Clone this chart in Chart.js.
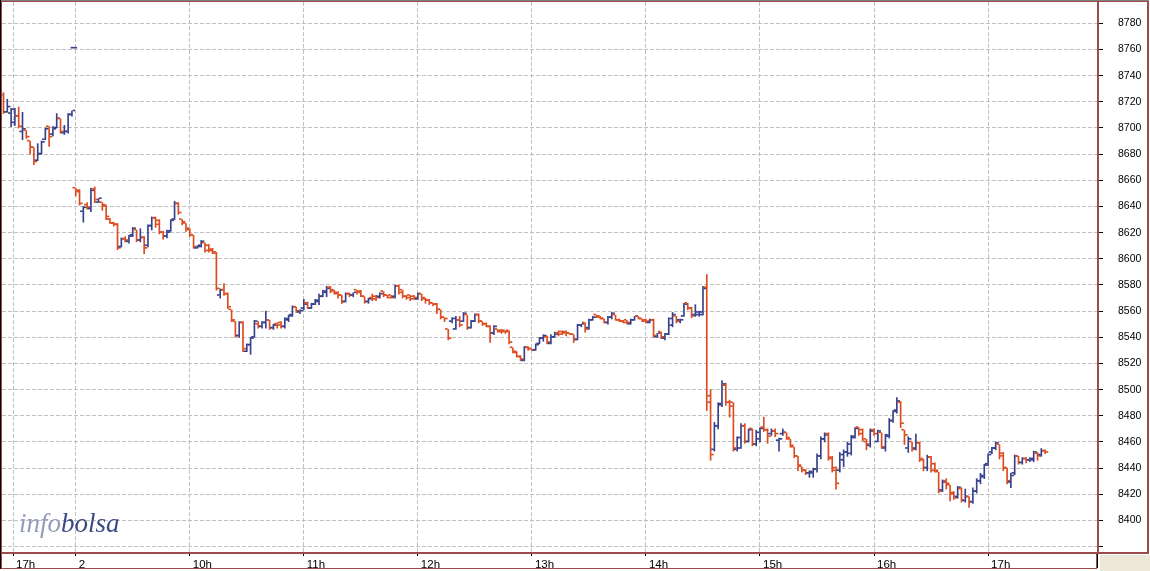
<!DOCTYPE html>
<html>
<head>
<meta charset="utf-8">
<script src="https://cdn.jsdelivr.net/npm/chart.js@4.4.1/dist/chart.umd.min.js"></script>
<style>
  html, body { margin: 0; padding: 0; background: #fff; }
  #wrap { width: 1150px; height: 571px; }
</style>
</head>
<body>
<div id="wrap"><canvas id="chart" width="1150" height="571"></canvas></div>
<script>
// time axis in minutes: 0 = 17:00 of the previous day, 33 = 9:00 of day 2
const BAR_MINUTES = 2;
const prevSessionStart = -5;
const daySessionStart = 33;
const strayMinute = 32;
const strayPrint = 8761;

// previous session (16:55 - 17:31), 2-minute bars
const prevOpen  = [8725,8712,8711,8704,8709,8697,8698,8690,8685,8675,8680,8691,8701,8695,8700,8707,8696,8697,8710];
const prevHigh  = [8727,8722,8715,8715,8716,8712,8698,8690,8685,8688,8690,8700,8701,8701,8711,8707,8702,8711,8713];
const prevLow   = [8711,8712,8701,8702,8700,8691,8692,8680,8672,8675,8680,8691,8686,8694,8700,8696,8695,8696,8709];
const prevClose = [8712,8716,8714,8709,8701,8699,8693,8685,8674,8680,8689,8699,8693,8699,8707,8697,8697,8710,8713];

// day 2 session (9:00 - 17:30), 2-minute bars
const dayOpen = [
  8654,8652,8636,8641,8638,8653,8643,8643,8640,8630, 8627,8626,8609,8615,8613,8618,8622,8614,8616,8610,
  8625,8631,8629,8620,8617,8621,8630,8642,8630,8627, 8623,8618,8608,8610,8612,8610,8607,8604,8572,8576,
  8573,8561,8552,8541,8551,8529,8534,8540,8550,8548, 8551,8553,8547,8550,8551,8548,8553,8557,8563,8559,
  8562,8566,8562,8565,8567,8571,8574,8578,8576,8574, 8572,8567,8573,8572,8576,8575,8571,8567,8570,8571,
  8571,8575,8572,8572,8571,8579,8576,8571,8572,8571, 8569,8573,8570,8568,8566,8565,8561,8555,8546,8552,
  8546,8553,8552,8557,8547,8552,8557,8552,8550,8548, 8543,8546,8545,8545,8545,8532,8529,8525,8522,8532,
  8531,8530,8535,8539,8540,8535,8540,8543,8544,8544, 8543,8542,8538,8549,8551,8547,8553,8557,8556,8554,
  8551,8555,8557,8553,8552,8553,8550,8553,8556,8554, 8553,8551,8553,8540,8544,8539,8542,8549,8556,8553,
  8556,8566,8562,8557,8557,8557,8578,8495,8454,8472, 8489,8503,8490,8490,8454,8455,8472,8460,8470,8458,
  8462,8471,8469,8466,8468,8461,8466,8467,8462,8456, 8449,8441,8438,8436,8436,8439,8449,8462,8466,8448,
  8440,8438,8446,8452,8451,8464,8471,8469,8460,8457, 8469,8460,8467,8455,8464,8476,8484,8490,8469,8455,
  8460,8455,8459,8446,8440,8448,8443,8437,8423,8430, 8427,8421,8418,8424,8415,8418,8414,8422,8430,8433,
  8443,8452,8455,8458,8451,8440,8429,8436,8449,8444, 8447,8446,8446,8451,8450,8453
];
const dayHigh = [
  8654,8653,8640,8643,8654,8655,8646,8643,8641,8631, 8628,8627,8616,8617,8618,8624,8622,8623,8617,8626,
  8632,8632,8630,8621,8622,8630,8644,8643,8630,8627, 8623,8618,8610,8614,8612,8611,8608,8605,8577,8581,
  8574,8561,8552,8552,8552,8535,8540,8553,8552,8552, 8560,8553,8550,8551,8552,8555,8557,8564,8563,8561,
  8569,8567,8566,8569,8573,8576,8579,8579,8576,8575, 8572,8574,8574,8574,8576,8576,8571,8570,8573,8572,
  8574,8575,8572,8572,8580,8580,8576,8572,8572,8572, 8574,8573,8570,8569,8566,8566,8561,8555,8546,8555,
  8556,8556,8559,8557,8553,8558,8558,8552,8551,8549, 8549,8546,8546,8545,8545,8532,8529,8526,8533,8533,
  8531,8535,8540,8542,8541,8542,8544,8545,8545,8545, 8543,8542,8550,8550,8551,8554,8556,8557,8556,8554,
  8556,8559,8557,8554,8553,8553,8554,8556,8556,8554, 8554,8554,8554,8543,8544,8543,8555,8559,8556,8554,
  8566,8566,8563,8565,8560,8579,8588,8500,8475,8490, 8507,8505,8492,8490,8464,8474,8474,8470,8470,8469,
  8471,8479,8470,8470,8470,8463,8470,8467,8462,8456, 8449,8441,8439,8438,8440,8451,8464,8467,8467,8449,
  8441,8452,8454,8460,8465,8471,8471,8470,8462,8470, 8470,8469,8467,8466,8478,8484,8494,8491,8469,8464,
  8460,8466,8460,8447,8450,8449,8444,8437,8431,8432, 8427,8422,8426,8425,8424,8418,8425,8432,8436,8443,
  8451,8456,8460,8458,8452,8440,8436,8450,8449,8448, 8448,8448,8453,8452,8455,8454
];
const dayLow = [
  8648,8641,8628,8638,8636,8643,8643,8637,8630,8627, 8625,8607,8609,8613,8612,8617,8613,8613,8604,8609,
  8622,8624,8619,8615,8616,8621,8630,8634,8626,8621, 8617,8608,8608,8609,8605,8605,8604,8576,8570,8572,
  8562,8552,8540,8540,8529,8529,8527,8540,8547,8547, 8547,8546,8546,8547,8547,8547,8552,8556,8559,8558,
  8561,8562,8562,8565,8565,8571,8571,8574,8573,8570, 8566,8567,8571,8571,8573,8571,8566,8566,8568,8568,
  8570,8571,8570,8570,8570,8573,8570,8569,8568,8569, 8569,8568,8566,8565,8564,8558,8554,8552,8538,8551,
  8546,8548,8552,8546,8547,8552,8551,8549,8548,8536, 8542,8544,8543,8543,8535,8528,8525,8522,8522,8530,
  8530,8530,8535,8537,8535,8535,8540,8541,8542,8541, 8542,8536,8538,8548,8544,8546,8553,8555,8554,8551,
  8550,8554,8553,8552,8551,8550,8550,8553,8554,8552, 8551,8551,8540,8540,8539,8538,8542,8548,8551,8551,
  8556,8561,8555,8556,8556,8557,8484,8446,8453,8470, 8487,8488,8479,8453,8453,8455,8459,8460,8457,8457,
  8460,8468,8459,8465,8464,8453,8465,8462,8456,8448, 8438,8437,8435,8433,8433,8437,8447,8460,8446,8437,
  8424,8437,8441,8449,8450,8463,8465,8461,8454,8456, 8465,8460,8455,8453,8463,8475,8482,8471,8458,8452,
  8453,8454,8445,8438,8438,8437,8437,8421,8422,8424, 8415,8416,8417,8414,8414,8410,8413,8421,8428,8432,
  8442,8451,8454,8447,8438,8428,8425,8435,8443,8443, 8444,8445,8445,8446,8449,8451
];
const dayClose = [
  8651,8642,8639,8639,8652,8645,8646,8641,8632,8627, 8626,8608,8615,8614,8617,8623,8614,8616,8608,8625,
  8631,8626,8620,8617,8620,8629,8642,8635,8628,8622, 8618,8609,8609,8613,8606,8606,8605,8577,8576,8573,
  8563,8553,8541,8551,8531,8534,8539,8552,8548,8551, 8553,8547,8549,8549,8548,8554,8556,8563,8560,8560,
  8565,8562,8565,8568,8571,8575,8577,8575,8573,8572, 8567,8573,8572,8574,8574,8571,8567,8569,8569,8570,
  8573,8572,8570,8570,8579,8574,8571,8570,8569,8570, 8573,8569,8568,8566,8565,8561,8555,8554,8539,8554,
  8553,8549,8558,8547,8552,8557,8552,8550,8548,8543, 8548,8544,8544,8544,8536,8528,8525,8523,8532,8531,
  8530,8534,8539,8541,8536,8540,8542,8542,8543,8543, 8542,8538,8549,8550,8546,8553,8555,8555,8554,8551,
  8555,8558,8553,8552,8551,8551,8553,8556,8554,8552, 8552,8553,8541,8543,8540,8542,8554,8557,8552,8553,
  8565,8562,8556,8559,8559,8577,8490,8450,8472,8488, 8504,8490,8487,8455,8463,8472,8460,8469,8458,8467,
  8470,8469,8464,8468,8466,8462,8467,8463,8457,8449, 8442,8438,8436,8437,8439,8449,8462,8465,8447,8438,
  8428,8450,8452,8458,8463,8470,8466,8462,8458,8468, 8466,8468,8456,8465,8476,8483,8491,8474,8465,8462,
  8454,8459,8447,8440,8448,8438,8438,8422,8429,8428, 8420,8417,8425,8415,8418,8414,8422,8430,8434,8442,
  8450,8455,8459,8449,8440,8430,8434,8449,8444,8447, 8446,8447,8452,8449,8453,8452
];

// axis labels
const hourTicks  = [0, 33, 93, 153, 213, 273, 333, 393, 453, 513];
const hourLabels = ['17h', '2', '10h', '11h', '12h', '13h', '14h', '15h', '16h', '17h'];
const dayBreak = 33;
const priceStep = 20;
const minorStep = 10;
const firstPriceLabel = 8400;

const UP = '#36418c';
const DOWN = '#dc4a1d';
const GRID = '#c0c0c0';
const FRAME = '#9c4a4a';
const PANEL_BG = '#ece9d8';
const FAMILY = '"Liberation Sans", Arial, sans-serif';

const bars = [];
prevOpen.forEach((o, i) => bars.push({ x: prevSessionStart + i * BAR_MINUTES, o, h: prevHigh[i], l: prevLow[i], c: prevClose[i] }));
bars.push({ x: strayMinute, o: strayPrint, h: strayPrint, l: strayPrint, c: strayPrint });
dayOpen.forEach((o, i) => bars.push({ x: daySessionStart + i * BAR_MINUTES, o, h: dayHigh[i], l: dayLow[i], c: dayClose[i] }));

const barColor = ctx => {
    const b = bars[ctx.dataIndex];
    return b && b.c >= b.o ? UP : DOWN;
};

// open tick | high-low stem | close tick, laid side by side by the bar grouping
const ohlcSets = [
    { label: 'open',  data: bars.map(b => ({ x: b.x, y: [b.o, b.o] })), barThickness: 1.9 },
    { label: 'range', data: bars.map(b => ({ x: b.x, y: [b.l, b.h] })), barThickness: 1 },
    { label: 'close', data: bars.map(b => ({ x: b.x, y: [b.c, b.c] })), barThickness: 1.9 },
].map(ds => Object.assign(ds, { backgroundColor: barColor, minBarLength: 1, borderWidth: 0 }));

// price ticks on round multiples of the step, whatever the axis bounds are
const roundTicks = step => s => {
    const out = [];
    for (let v = Math.ceil(s.min / step) * step; v <= s.max; v += step) out.push({ value: v });
    s.ticks = out;
};

// fixed axis sizes; drop the label overhang padding so the plot keeps its full height
const fixWidth = w => s => { s.width = w; s.paddingTop = 0; s.paddingBottom = 0; };
const fixHeight = h => s => { s.height = h; s.paddingLeft = 0; s.paddingRight = 0; };

const watermark = {
    id: 'watermark',
    beforeDatasetsDraw(chart) {
        const c = chart.ctx, a = chart.chartArea;
        c.save();
        c.font = 'italic 27px "Liberation Serif", serif';
        c.textBaseline = 'alphabetic';
        const x = a.left + 17, y = a.bottom - 20;
        c.fillStyle = '#959bbd';
        c.fillText('info', x, y);
        const w = c.measureText('info').width;
        c.fillStyle = '#3a4a87';
        c.fillText('bolsa', x + w, y);
        c.restore();
    }
};

const frame = {
    id: 'frame',
    afterDraw(chart) {
        const c = chart.ctx, a = chart.chartArea, W = chart.width, H = chart.height;
        c.save();
        c.fillStyle = PANEL_BG;
        c.fillRect(a.right + 3, a.bottom + 3, W - a.right - 3, H - a.bottom - 3);
        c.fillStyle = '#808080';
        c.fillRect(0, 0, W - 1, 1);
        c.fillStyle = '#000';
        c.fillRect(0, 0, 1, a.bottom + 17);
        c.fillStyle = FRAME;
        c.fillRect(1, 1, W - 2, 1);                 // top
        c.fillRect(1, 1, 1, a.bottom + 16);         // left
        c.fillRect(a.right, 1, 2, a.bottom);        // plot right
        c.fillRect(W - 3, 1, 2, a.bottom + 1);      // price panel right
        c.fillRect(1, a.bottom, W - 2, 2);          // plot and panel bottom
        c.fillRect(1, a.bottom + 16, a.right - 1, 1);   // time strip bottom
        c.fillRect(a.right - 1, a.bottom, 1, 17);   // time strip right
        c.restore();
    }
};

const yRange = { min: 8375.9, max: 8796.3 };
const xRange = { min: -5.79, max: 570.3 };

new Chart(document.getElementById('chart'), {
    type: 'bar',
    data: { datasets: ohlcSets },
    options: {
        responsive: false,
        animation: false,
        devicePixelRatio: 1,
        layout: { padding: { left: 2, top: 2, right: 0, bottom: 0 } },
        plugins: {
            legend: { display: false },
            tooltip: { enabled: false }
        },
        scales: {
            x: {
                type: 'linear',
                position: 'bottom',
                weight: 1,
                min: xRange.min,
                max: xRange.max,
                offset: false,
                afterBuildTicks: s => { s.ticks = hourTicks.map(v => ({ value: v })); },
                afterFit: fixHeight(19),
                grid: {
                    offset: false,
                    color: GRID,
                    drawTicks: true,
                    tickLength: 4,
                    tickColor: '#000'
                },
                border: { display: false, dash: [4, 2] },
                ticks: {
                    autoSkip: false,
                    maxRotation: 0,
                    align: 'start',
                    labelOffset: 3,
                    padding: 2,
                    color: '#000',
                    font: { family: FAMILY, size: 11.5 },
                    callback: v => hourLabels[hourTicks.indexOf(v)]
                }
            },
            xDay: {
                type: 'linear',
                position: 'bottom',
                weight: 0,
                min: xRange.min,
                max: xRange.max,
                afterBuildTicks: s => { s.ticks = [{ value: dayBreak }]; },
                afterFit: fixHeight(0),
                grid: { drawOnChartArea: false, tickLength: 16, tickColor: '#000' },
                border: { display: false },
                ticks: { display: false }
            },
            y: {
                type: 'linear',
                position: 'right',
                weight: 1,
                min: yRange.min,
                max: yRange.max,
                beginAtZero: false,
                afterBuildTicks: roundTicks(priceStep),
                afterFit: fixWidth(53),
                grid: {
                    color: GRID,
                    tickLength: 6,
                    tickColor: '#000'
                },
                border: { display: false, dash: [4, 2] },
                ticks: {
                    autoSkip: false,
                    padding: 15,
                    color: '#000',
                    font: { family: FAMILY, size: 10.5 },
                    callback: v => (v >= firstPriceLabel ? String(v) : '')
                }
            },
            yMinor: {
                type: 'linear',
                position: 'right',
                weight: 0,
                min: yRange.min,
                max: yRange.max,
                afterBuildTicks: roundTicks(minorStep),
                afterFit: fixWidth(0),
                grid: { drawOnChartArea: false, tickLength: 2, tickColor: '#000' },
                border: { display: false },
                ticks: { display: false }
            }
        }
    },
    plugins: [watermark, frame]
});
</script>
</body>
</html>
